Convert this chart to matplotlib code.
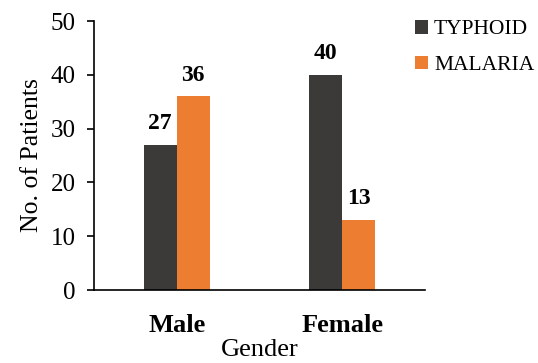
import matplotlib
matplotlib.use("Agg")
import matplotlib.pyplot as plt
import numpy as np

genders = ["Male", "Female"]
typhoid = [27, 40]
malaria = [36, 13]
series_names = ["TYPHOID", "MALARIA"]
y_ticks = [0, 10, 20, 30, 40, 50]

plt.rcParams["font.family"] = ["Liberation Serif", "DejaVu Serif"]

fig = plt.figure(figsize=(5.38, 3.63), dpi=100)
ax = fig.add_axes([0.1747, 0.201, 0.6153, 0.741])

x = np.arange(len(genders))
w = 0.2
b1 = ax.bar(x - w / 2, typhoid, w, color="#3b3a38", label=series_names[0])
b2 = ax.bar(x + w / 2, malaria, w, color="#ed7d31", label=series_names[1])

for bars, vals in ((b1, typhoid), (b2, malaria)):
    for rect, v in zip(bars, vals):
        ax.text(rect.get_x() + rect.get_width() / 2, v + 2.0, str(v),
                ha="center", va="bottom", fontsize=17, fontweight="bold")

ax.set_xlim(-0.5, 1.5)
ax.set_ylim(0, 50)
ax.set_yticks(y_ticks)
ax.set_xticks(x)
ax.set_xticklabels(genders, fontsize=19, fontweight="bold")
ax.tick_params(axis="x", length=0, pad=17)
ax.tick_params(axis="y", labelsize=18, length=5, width=1.2, pad=8)
ax.spines["top"].set_visible(False)
ax.spines["right"].set_visible(False)
ax.spines["left"].set_linewidth(1.2)
ax.spines["bottom"].set_linewidth(1.2)

ax.set_ylabel("No. of Patients", fontsize=18.5, labelpad=6)
ax.set_xlabel("Gender", fontsize=19, labelpad=2)

leg = ax.legend(loc="upper left", bbox_to_anchor=(0.91, 1.076), frameon=False,
                fontsize=15.5, handlelength=0.6, handleheight=0.6,
                handletextpad=0.3, labelspacing=0.75)

fig.savefig("out.png", dpi=100)
